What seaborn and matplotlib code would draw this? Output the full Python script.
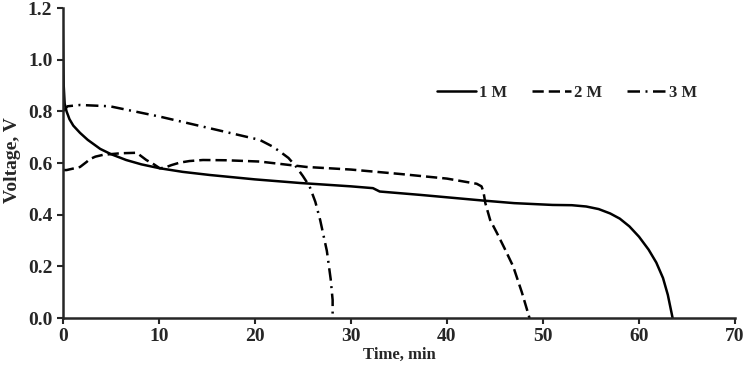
import matplotlib
matplotlib.use("Agg")
import matplotlib.pyplot as plt
import numpy as np
import pandas as pd
import seaborn as sns

# Discharge curves (time in min, voltage in V)
t_1m = [0, 0.05, 0.1, 0.2, 0.4, 0.7, 1.1, 1.8, 2.6, 3.9, 5.0, 6.6, 8.2, 10.1, 12.5, 15.3,
        20, 24.7, 30, 32.3, 33, 37.2, 43.75, 47, 51, 53, 54.5, 55.8, 57, 58, 59, 60, 61,
        61.8, 62.5, 63, 63.5]
v_1m = [1.14, 1.0, 0.9, 0.83, 0.8, 0.77, 0.745, 0.717, 0.69, 0.655, 0.635, 0.612, 0.595,
        0.58, 0.566, 0.554, 0.537, 0.523, 0.51, 0.503, 0.49, 0.477, 0.455, 0.445, 0.438,
        0.437, 0.432, 0.422, 0.405, 0.385, 0.355, 0.315, 0.265, 0.215, 0.155, 0.09, 0.0]

t_2m = [0, 0.4, 1.8, 2.5, 2.8, 3.4, 4.2, 6, 7.7, 8.7, 9.5, 10.1, 10.6, 11.3, 12.2, 13.2,
        14.6, 17, 20.5, 25.4, 30, 35.1, 40, 43.1, 43.6, 43.8, 44, 44.5, 45.2, 46, 46.9,
        47.8, 48.6]
v_2m = [0.573, 0.573, 0.585, 0.605, 0.615, 0.625, 0.632, 0.638, 0.64, 0.612, 0.595, 0.58,
        0.582, 0.592, 0.602, 0.608, 0.612, 0.611, 0.606, 0.585, 0.575, 0.558, 0.54, 0.52,
        0.51, 0.49, 0.445, 0.38, 0.33, 0.27, 0.2, 0.1, 0.0]

t_3m = [0, 0.5, 1.8, 4.9, 7.5, 10.1, 15.3, 20.5, 21.8, 22.6, 23.5, 24.3, 25.0, 25.7, 26.3,
        26.8, 27.5, 27.9, 28.1, 28.1]
v_3m = [0.80, 0.82, 0.825, 0.82, 0.80, 0.78, 0.735, 0.69, 0.665, 0.645, 0.62, 0.586, 0.55,
        0.51, 0.45, 0.38, 0.26, 0.15, 0.07, 0.0]

labels = ["1 M", "2 M", "3 M"]

df = pd.concat([
    pd.DataFrame({"t": t, "V": v, "conc": lab})
    for t, v, lab in zip([t_1m, t_2m, t_3m], [v_1m, v_2m, v_3m], labels)
], ignore_index=True)

sns.set_style("ticks")
plt.rcParams["font.family"] = ["Liberation Serif", "DejaVu Serif"]
plt.rcParams["font.weight"] = "bold"

fig, ax = plt.subplots(figsize=(7.47, 3.69), dpi=100)
sns.lineplot(data=df, x="t", y="V", style="conc", color="black", sort=False,
             estimator=None, linewidth=1.8,
             dashes={"1 M": "", "2 M": (4.5, 2), "3 M": (5, 2.2, 0.8, 2.2)}, ax=ax)

ax.set_xlim(0, 70)
ax.set_ylim(0, 1.2)
ax.set_xticks(np.arange(0, 71, 10))
ax.set_yticks(np.arange(0, 1.21, 0.2))
ax.yaxis.set_major_formatter(matplotlib.ticker.FormatStrFormatter("%.1f"))
ax.set_xlabel("Time, min", fontsize=12, fontweight="bold", labelpad=1)
ax.set_ylabel("Voltage, V", fontsize=14, fontweight="bold")
ax.yaxis.set_label_coords(-0.062, 0.51)
ax.tick_params(labelsize=14, width=1.5, length=4)
for lab in ax.get_xticklabels() + ax.get_yticklabels():
    lab.set_fontweight("bold")
sns.despine(ax=ax)
for s in ["left", "bottom"]:
    ax.spines[s].set_linewidth(1.8)

ax.legend(ncol=3, frameon=False, loc="upper left", bbox_to_anchor=(0.535, 0.8),
          handlelength=2.3, handletextpad=0.2, columnspacing=1.5,
          prop={"size": 12, "weight": "bold"})

fig.subplots_adjust(left=0.084, right=0.984, top=0.978, bottom=0.138)
fig.savefig("out.png", dpi=100)
